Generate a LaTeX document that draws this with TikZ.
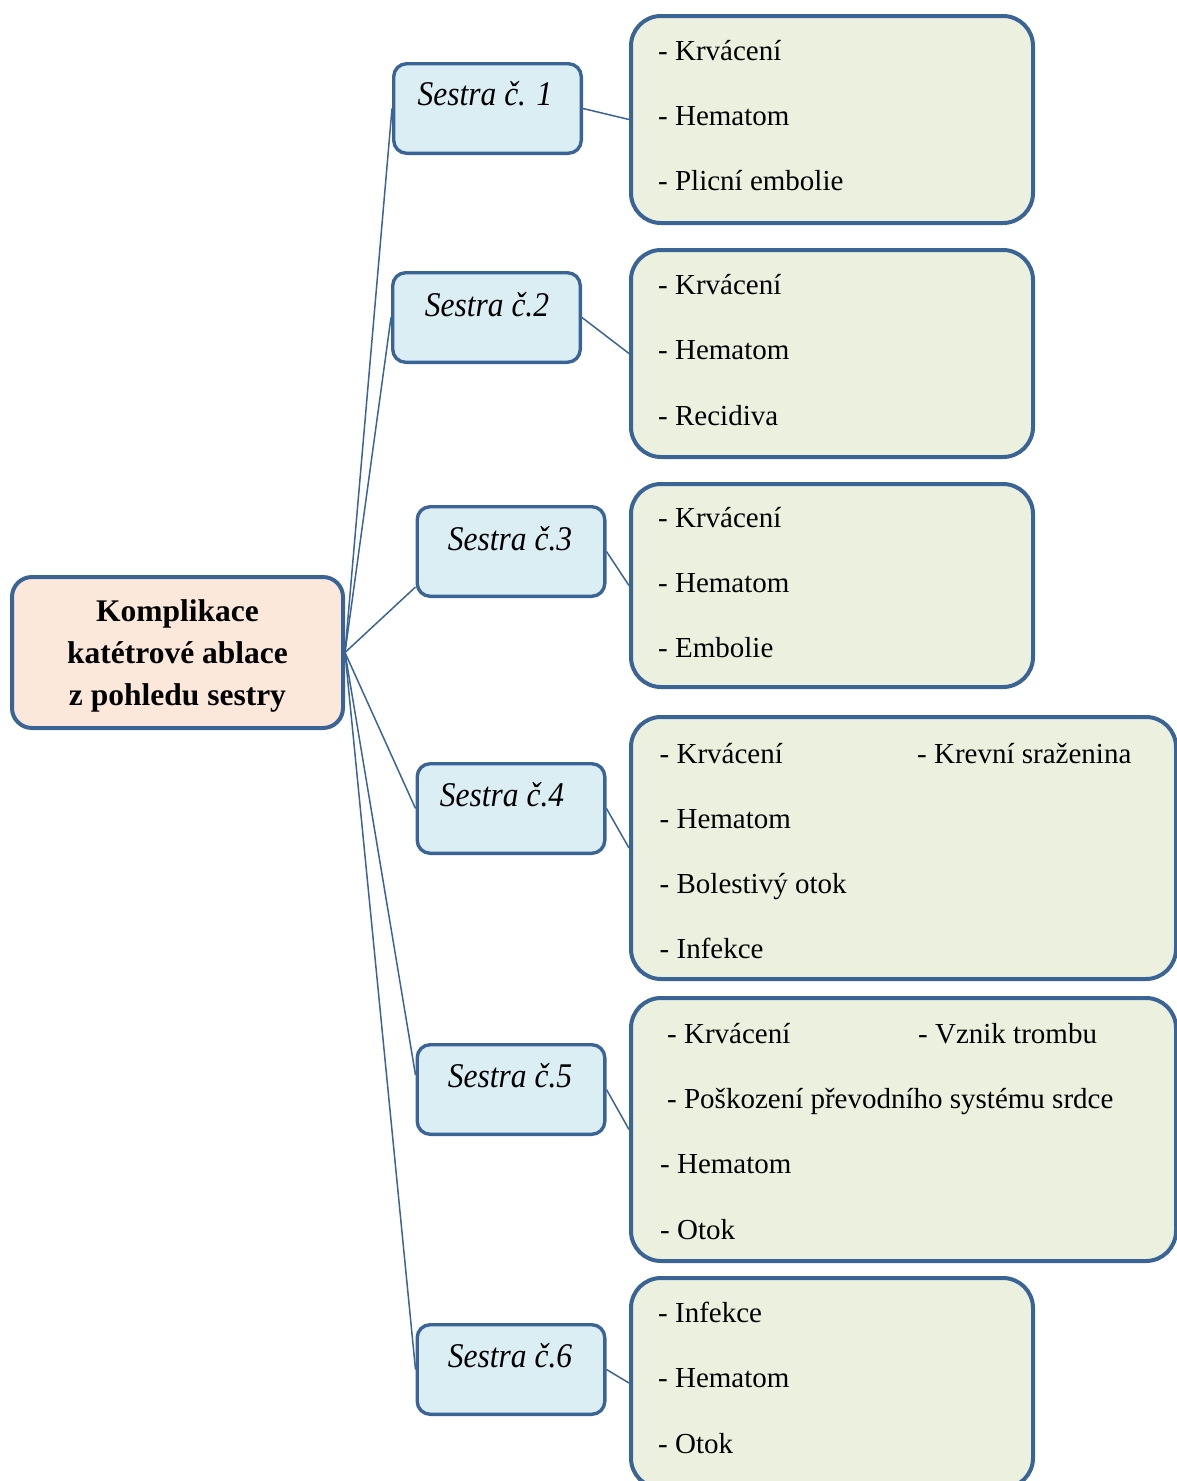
\documentclass[tikz,border=0pt]{standalone}
\usepackage{fontspec}
\setmainfont{Liberation Serif}
\usetikzlibrary{calc,backgrounds}
\definecolor{edgeblue}{HTML}{3B6496}
\definecolor{rootfill}{HTML}{FCE8DA}
\definecolor{nursefill}{HTML}{DBEEF4}
\definecolor{listfill}{HTML}{EBF1DE}
\begin{document}
\begin{tikzpicture}[x=1pt,y=-1pt,
  rootbox/.style={draw=edgeblue, fill=rootfill, line width=4pt, rounded corners=20pt,
    inner sep=0pt, minimum width=331pt, minimum height=151pt},
  nursebox/.style={draw=edgeblue, fill=nursefill, line width=3.4pt, rounded corners=13pt,
    inner sep=0pt, minimum width=187.6pt, minimum height=89.6pt},
  listbox/.style={draw=edgeblue, fill=listfill, line width=4pt, rounded corners=30pt,
    inner sep=0pt, minimum width=402pt},
  roottext/.style={inner sep=0pt, anchor=base, font=\fontsize{31.5pt}{36pt}\selectfont\bfseries},
  nursetext/.style={inner sep=0pt, anchor=base},
  itemtext/.style={inner sep=0pt, anchor=base west, font=\fontsize{29pt}{34pt}\selectfont},
  link/.style={draw=edgeblue, line width=1.5pt}
]
\newcommand{\nursename}[1]{\scalebox{1}[1.1]{\fontsize{31.5pt}{36pt}\selectfont\itshape #1}}
\useasboundingbox (0,0) rectangle (1176,1481);

% central topic
\node[rootbox] (root) at (177.5,652.5) {};
\node[roottext] (root1) at ($(root.center)+(0,-31.5)$) {Komplikace};
\node[roottext] (root2) at ($(root.center)+(0,10.5)$) {katétrové ablace};
\node[roottext] (root3) at ($(root.center)+(0,52.5)$) {z pohledu sestry};

% nurses
\node[nursebox] (s1) at (487.5,108.5) {};
\node[nursebox] (s2) at (486.5,317.5) {};
\node[nursebox] (s3) at (511,551.5) {};
\node[nursebox] (s4) at (511,808.5) {};
\node[nursebox] (s5) at (511,1089.5) {};
\node[nursebox] (s6) at (511,1369.5) {};
\node[nursetext] (t1) at (485,105) {\nursename{Sestra č. 1}};
\node[nursetext] (t2) at (487,316) {\nursename{Sestra č.2}};
\node[nursetext] (t3) at (510,550) {\nursename{Sestra č.3}};
\node[nursetext] (t4) at (502,806) {\nursename{Sestra č.4}};
\node[nursetext] (t5) at (510,1087) {\nursename{Sestra č.5}};
\node[nursetext] (t6) at (510,1367) {\nursename{Sestra č.6}};

% complication lists
\node[listbox, minimum height=207pt] (g1) at (832,119.5) {};
\node[listbox, minimum height=207pt] (g2) at (832,353.5) {};
\node[listbox, minimum height=203pt] (g3) at (832,585.5) {};
\node[listbox, minimum width=545pt, minimum height=262pt] (g4) at (903.5,848) {};
\node[listbox, minimum width=545pt, minimum height=263pt] (g5) at (903.5,1129.5) {};
\node[listbox, minimum height=210pt] (g6) at (832,1383) {};

\node[itemtext] (g1a) at (658,60) {- Krvácení};
\node[itemtext] (g1b) at (658,125) {- Hematom};
\node[itemtext] (g1c) at (658,190) {- Plicní embolie};

\node[itemtext] (g2a) at (658,294) {- Krvácení};
\node[itemtext] (g2b) at (658,359) {- Hematom};
\node[itemtext] (g2c) at (658,425) {- Recidiva};

\node[itemtext] (g3a) at (658,527) {- Krvácení};
\node[itemtext] (g3b) at (658,592) {- Hematom};
\node[itemtext] (g3c) at (658,657) {- Embolie};

\node[itemtext] (g4a) at (659.5,763) {- Krvácení};
\node[itemtext] (g4b) at (659.5,828) {- Hematom};
\node[itemtext] (g4c) at (659.5,893) {- Bolestivý otok};
\node[itemtext] (g4d) at (659.5,958) {- Infekce};
\node[itemtext] (g4e) at (917,763) {- Krevní sraženina};

\node[itemtext] (g5a) at (667,1043) {- Krvácení};
\node[itemtext] (g5b) at (918,1043) {- Vznik trombu};
\node[itemtext] (g5c) at (667,1108) {- Poškození převodního systému srdce};
\node[itemtext] (g5d) at (660,1173) {- Hematom};
\node[itemtext] (g5e) at (660,1239) {- Otok};

\node[itemtext] (g6a) at (658,1322) {- Infekce};
\node[itemtext] (g6b) at (658,1387) {- Hematom};
\node[itemtext] (g6c) at (658,1453) {- Otok};

% connectors
\begin{scope}[on background layer]
  \draw[link] (root.east) -- (s1.west);
  \draw[link] (root.east) -- (s2.west);
  \draw[link] (root.east) -- ($(s3.west)+(0,35.5)$);
  \draw[link] (root.east) -- (s4.west);
  \draw[link] (root.east) -- ($(s5.west)+(0,-14.5)$);
  \draw[link] (root.east) -- (s6.west);
  \draw[link] (s1.east) -- (g1.west);
  \draw[link] (s2.east) -- (g2.west);
  \draw[link] (s3.east) -- (g3.west);
  \draw[link] (s4.east) -- (g4.west);
  \draw[link] (s5.east) -- (g5.west);
  \draw[link] (s6.east) -- (g6.west);
\end{scope}
\end{tikzpicture}
\end{document}
